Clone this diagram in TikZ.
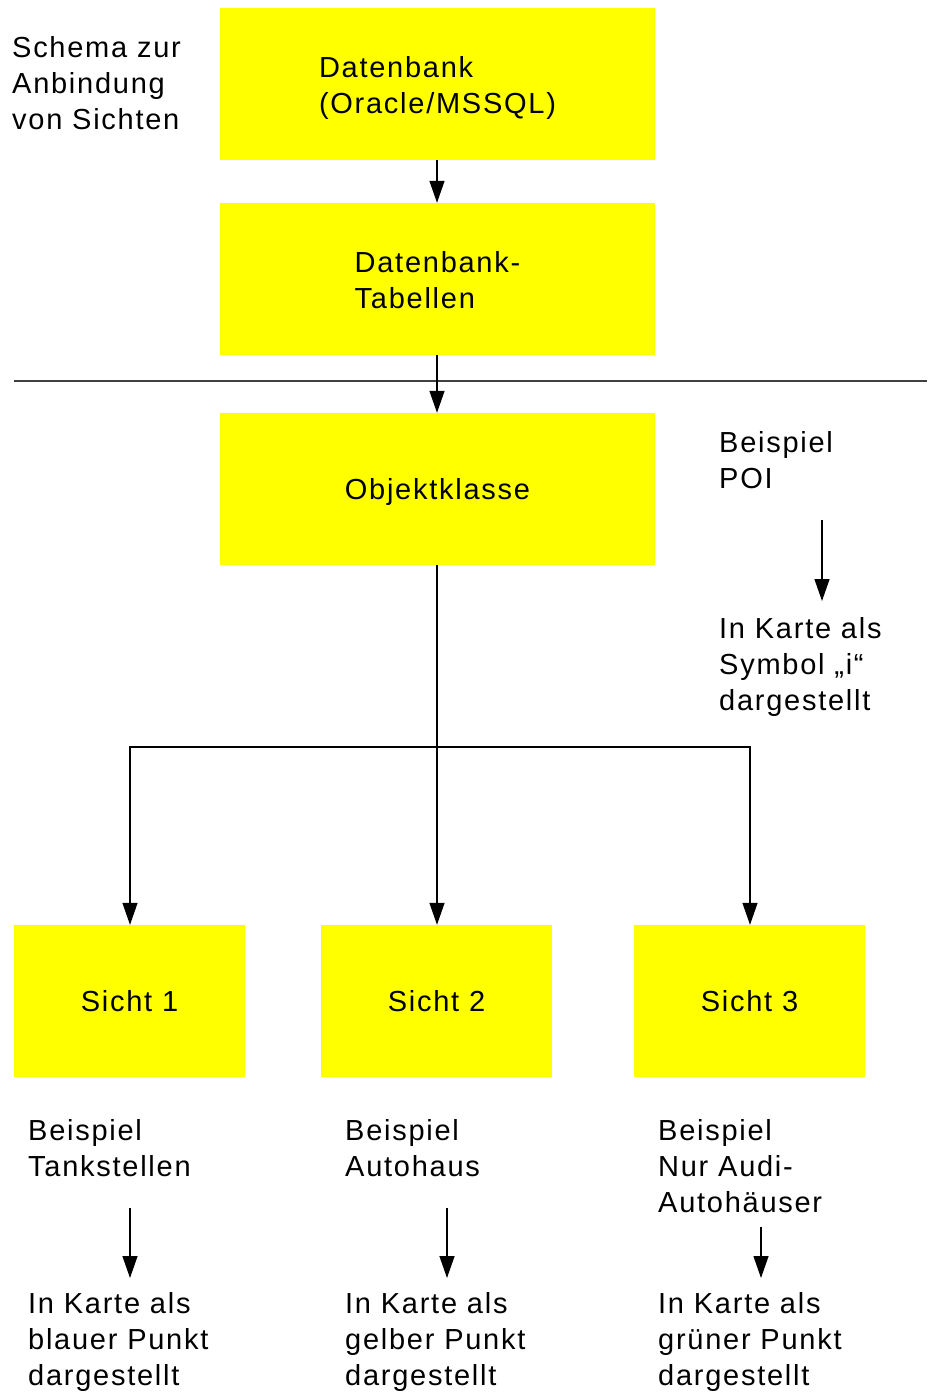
\documentclass[tikz,border=0pt]{standalone}
\usepackage{fontspec}
\setmainfont[LetterSpace=6]{Liberation Sans}
\usetikzlibrary{arrows.meta}
\definecolor{boxyellow}{RGB}{255,255,0}
\definecolor{sepgray}{RGB}{64,64,64}
\begin{document}
\begin{tikzpicture}[x=1pt,y=-1pt,
  every node/.style={inner sep=0pt,font=\fontsize{29}{36}\selectfont},
  bigbox/.style={fill=boxyellow,minimum width=435pt,minimum height=152pt},
  viewbox/.style={fill=boxyellow,minimum width=231pt,minimum height=152pt},
  boxtext/.style={align=left},
  note/.style={anchor=north west,align=left},
  conn/.style={line width=1.3pt,-{Triangle[length=22pt,width=15pt]}}]
  \useasboundingbox (0,0) rectangle (927,1394);

  % title
  \node[note] (title) at (12,36) {Schema zur\\Anbindung\\von Sichten};

  % database layer
  \node[bigbox] (db) at (437.5,84) {};
  \node[boxtext] (dbt) at ([yshift=-4pt]db.center) {Datenbank\\(Oracle/MSSQL)};
  \node[bigbox] (tab) at (437.5,279) {};
  \node[boxtext] (tabt) at ([yshift=-1pt]tab.center) {Datenbank-\\Tabellen};
  \node[bigbox] (obj) at (437.5,489) {};
  \node[boxtext] (objt) at ([yshift=-3pt]obj.center) {Objektklasse};

  % separator between database and application side
  \coordinate (sepL) at (14,381);
  \coordinate (sepR) at (927,381);
  \draw[line width=1.3pt,sepgray] (sepL) -- (sepR);

  % views
  \node[viewbox] (s1) at (129.5,1001) {Sicht 1};
  \node[viewbox] (s2) at (436.5,1001) {Sicht 2};
  \node[viewbox] (s3) at (749.5,1001) {Sicht 3};

  \draw[conn] (db.south -| 437,0) -- (tab.north -| 437,0);
  \draw[conn] (tab.south -| 437,0) -- (obj.north -| 437,0);
  \coordinate (fork) at (437,747);
  \draw[conn] (obj.south -| 437,0) -- (s2.north -| 437,0);
  \draw[conn] (fork) -| (s1.north -| 130,0);
  \draw[conn] (fork) -| (s3.north -| 750,0);

  % POI example
  \node[note] (poiA) at (719,431) {Beispiel\\POI};
  \node[note] (poiB) at (719,617) {In Karte als\\Symbol „i“\\dargestellt};
  \coordinate (poiS) at (822,520);
  \coordinate (poiE) at (822,601);
  \draw[conn] (poiS) -- (poiE);

  % examples per view
  \node[note] (e1a) at (28,1119) {Beispiel\\Tankstellen};
  \node[note] (e1b) at (28,1292) {In Karte als\\blauer Punkt\\dargestellt};
  \node[note] (e2a) at (345,1119) {Beispiel\\Autohaus};
  \node[note] (e2b) at (345,1292) {In Karte als\\gelber Punkt\\dargestellt};
  \node[note] (e3a) at (658,1119) {Beispiel\\Nur Audi-\\Autohäuser};
  \node[note] (e3b) at (658,1292) {In Karte als\\grüner Punkt\\dargestellt};

  \coordinate (a1s) at (130,1208); \coordinate (a1e) at (130,1278);
  \coordinate (a2s) at (447,1208); \coordinate (a2e) at (447,1278);
  \coordinate (a3s) at (761,1227); \coordinate (a3e) at (761,1278);
  \draw[conn] (a1s) -- (a1e);
  \draw[conn] (a2s) -- (a2e);
  \draw[conn] (a3s) -- (a3e);
\end{tikzpicture}
\end{document}
